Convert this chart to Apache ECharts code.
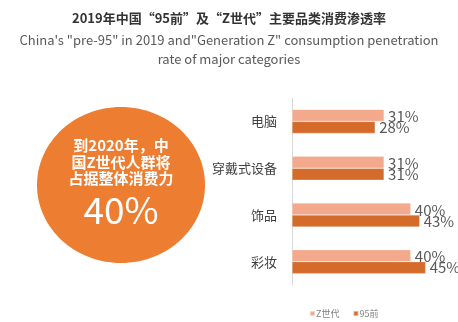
<!DOCTYPE html>
<html><head><meta charset="utf-8">
<script src="https://cdn.jsdelivr.net/npm/echarts@6/dist/echarts.min.js"></script>
<style>html,body{margin:0;padding:0;background:#fff}#c{width:458px;height:322px}</style>
</head><body><div id="c"></div>
<script>
const categories = ['电脑', '穿戴式设备', '饰品', '彩妆'];
const genZ = [31, 31, 40, 40];
const pre95 = [28, 31, 43, 45];
const seriesNames = ['Z世代', '95前'];
const titleText = '2019年中国“95前”及“Z世代”主要品类消费渗透率';
const subText = 'China\'s "pre-95" in 2019 and"Generation Z" consumption penetration\nrate of major categories';
const circleLines = ['到2020年，中', '国Z世代人群将', '占据整体消费力'];
const circleValue = '40%';

const FONT = '"Noto Sans CJK SC", "Noto Sans", sans-serif';
const chart = echarts.init(document.getElementById('c'), null, {renderer: 'canvas'});
chart.setOption({
  animation: false,
  backgroundColor: '#fff',
  textStyle: {fontFamily: FONT},
  title: {
    text: titleText,
    subtext: subText,
    left: 'center',
    top: 7,
    itemGap: 6,
    textStyle: {fontSize: 13, fontWeight: 'bold', color: '#333', fontFamily: FONT},
    subtextStyle: {fontSize: 13, color: '#595959', lineHeight: 19, fontFamily: FONT}
  },
  legend: {
    data: seriesNames,
    left: 309,
    top: 309,
    padding: 0,
    itemWidth: 5,
    itemHeight: 5,
    itemGap: 13,
    icon: 'rect',
    textStyle: {fontSize: 9, color: '#808080', fontFamily: FONT, padding: [0, 0, 0, -4]}
  },
  grid: {left: 292, top: 98, width: 148.5, height: 187, containLabel: false},
  xAxis: {type: 'value', min: 0, max: 50, show: false},
  yAxis: {
    type: 'category',
    data: categories,
    inverse: true,
    axisLine: {show: true, lineStyle: {color: '#d9d9d9', width: 1}},
    axisTick: {show: false},
    axisLabel: {fontSize: 13, color: '#404040', margin: 15, fontFamily: FONT}
  },
  series: [
    {
      name: seriesNames[0], type: 'bar', data: genZ, barWidth: 12, barGap: '0%',
      itemStyle: {color: '#F3A98B', borderColor: 'rgba(255,255,255,0.5)', borderWidth: 0.5},
      label: {show: true, position: 'right', distance: 4, formatter: '{c}%', fontSize: 15, color: '#595959', fontFamily: FONT, offset: [0, 1]}
    },
    {
      name: seriesNames[1], type: 'bar', data: pre95, barWidth: 12,
      itemStyle: {color: '#D56B2A', borderColor: 'rgba(255,255,255,0.5)', borderWidth: 0.5},
      label: {show: true, position: 'right', distance: 4, formatter: '{c}%', fontSize: 15, color: '#595959', fontFamily: FONT, offset: [0, 0]}
    }
  ],
  graphic: [
    {type: 'ellipse', shape: {cx: 121, cy: 185, rx: 84, ry: 78}, style: {fill: '#ED7D31'}, z: 1},
    {type: 'text', x: 121, y: 162, z: 2, style: {
      text: circleLines.join('\n'), fill: '#fff', font: 'bold 15px ' + FONT,
      align: 'center', verticalAlign: 'middle', lineHeight: 16.5
    }},
    {type: 'text', x: 121, y: 210, z: 2, style: {
      text: circleValue, fill: '#fff', font: '37px ' + FONT,
      align: 'center', verticalAlign: 'middle'
    }}
  ]
});
</script></body></html>
